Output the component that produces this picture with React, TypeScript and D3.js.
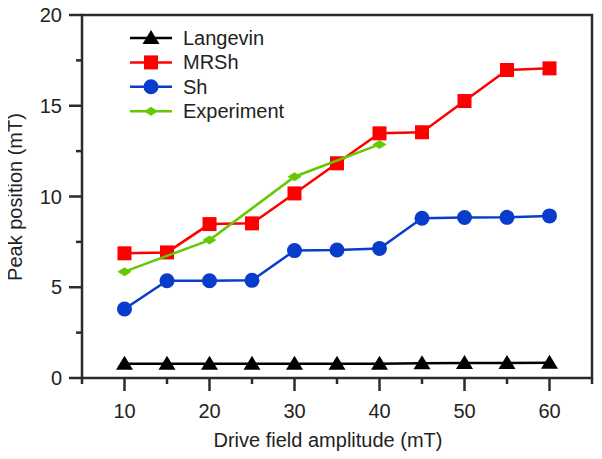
import * as d3 from 'd3';

// x values (drive field amplitude, mT)
const fields = [10, 15, 20, 25, 30, 35, 40, 45, 50, 55, 60];
const langevin = [0.78, 0.78, 0.78, 0.78, 0.78, 0.78, 0.79, 0.81, 0.82, 0.83, 0.84];
const mrsh = [6.87, 6.92, 8.48, 8.52, 10.17, 11.83, 13.48, 13.54, 15.26, 16.97, 17.06];
const sh = [3.8, 5.36, 5.36, 5.38, 7.02, 7.05, 7.14, 8.8, 8.84, 8.85, 8.93];
const expFields = [10, 20, 30, 40];
const experiment = [5.86, 7.6, 11.09, 12.87];

const xTicks = [10, 20, 30, 40, 50, 60];
const yTicks = [0, 5, 10, 15, 20];

const W = 602;
const H = 459;
const L = 82, R = 592, T = 15, B = 378;
const font = 'Arial, "Liberation Sans", sans-serif';
const fs = 20;
const axisColor = '#2b2b2b';

const x = d3.scaleLinear().domain([5, 65]).range([L, R]);
const y = d3.scaleLinear().domain([0, 20]).range([B, T]);
const lineGen = d3.line<[number, number]>().x(d => x(d[0])).y(d => y(d[1]));

const Marker = ({ kind, color, cx, cy }: { kind: string; color: string; cx: number; cy: number }) => {
  if (kind === 'tri') return <path d={`M${cx},${cy - 8}L${cx + 8.5},${cy + 6}L${cx - 8.5},${cy + 6}Z`} fill={color} />;
  if (kind === 'sq') return <rect x={cx - 7} y={cy - 7} width={14} height={14} fill={color} />;
  if (kind === 'circ') return <circle cx={cx} cy={cy} r={7.5} fill={color} />;
  return <path d={`M${cx - 7},${cy}L${cx},${cy - 4.5}L${cx + 7},${cy}L${cx},${cy + 4.5}Z`} fill={color} />;
};

const series = [
  { name: 'Langevin', xs: fields, ys: langevin, color: '#000000', kind: 'tri' },
  { name: 'MRSh', xs: fields, ys: mrsh, color: '#ff0000', kind: 'sq' },
  { name: 'Sh', xs: fields, ys: sh, color: '#0a3ccc', kind: 'circ' },
  { name: 'Experiment', xs: expFields, ys: experiment, color: '#66c800', kind: 'dia' },
];

const App = () => {
  const xMinor = d3.range(5, 65.1, 5);
  const yMinor = d3.range(0, 20.1, 2.5);
  const framePts: [number, number][] = [[5, 20], [65, 20], [65, 0], [5, 0], [5, 20]];
  return (
    <svg width={W} height={H} style={{ display: 'block', margin: '-8px' }}>
      <rect width={W} height={H} fill="#ffffff" />
      <g>
        <path d={(lineGen(framePts) || '') + 'Z'} fill="none" stroke={axisColor} strokeWidth={2.5} />
        {xMinor.map(v => (
          <path key={'x' + v} d={lineGen([[v, 0], [v, y.invert(B + (xTicks.includes(v) ? 13 : 6))]]) || ''}
            fill="none" stroke={axisColor} strokeWidth={2.5} />
        ))}
        {yMinor.map(v => (
          <path key={'y' + v} d={lineGen([[5, v], [x.invert(L - (yTicks.includes(v) ? 13 : 6)), v]]) || ''}
            fill="none" stroke={axisColor} strokeWidth={2.5} />
        ))}
      </g>
      <g fontFamily={font} fontSize={fs} fill="#222222">
        {xTicks.map(v => (
          <text key={v} x={x(v)} y={B + 40} textAnchor="middle">{v}</text>
        ))}
        {yTicks.map(v => (
          <text key={v} x={L - 20} y={y(v) + 7} textAnchor="end">{v}</text>
        ))}
        <text x={328} y={447} textAnchor="middle">Drive field amplitude (mT)</text>
        <text transform={`translate(22,197) rotate(-90)`} textAnchor="middle">Peak position (mT)</text>
      </g>
      {series.map(s => {
        const pts = s.xs.map((v, i) => [v, s.ys[i]] as [number, number]);
        return (
          <g key={s.name}>
            <path d={lineGen(pts) || ''} fill="none" stroke={s.color} strokeWidth={2.5} />
            {pts.map((p, i) => (
              <Marker key={i} kind={s.kind} color={s.color} cx={x(p[0])} cy={y(p[1])} />
            ))}
          </g>
        );
      })}
      {/* legend */}
      {series.map((s, i) => {
        const ly = 38 + i * 24.4;
        return (
          <g key={'leg' + s.name}>
            <line x1={130} x2={172} y1={ly} y2={ly} stroke={s.color} strokeWidth={2.5} />
            <Marker kind={s.kind} color={s.color} cx={151} cy={ly} />
            <text x={183} y={ly + 7} fontFamily={font} fontSize={fs} fill="#222222">{s.name}</text>
          </g>
        );
      })}
    </svg>
  );
};

export default App;
